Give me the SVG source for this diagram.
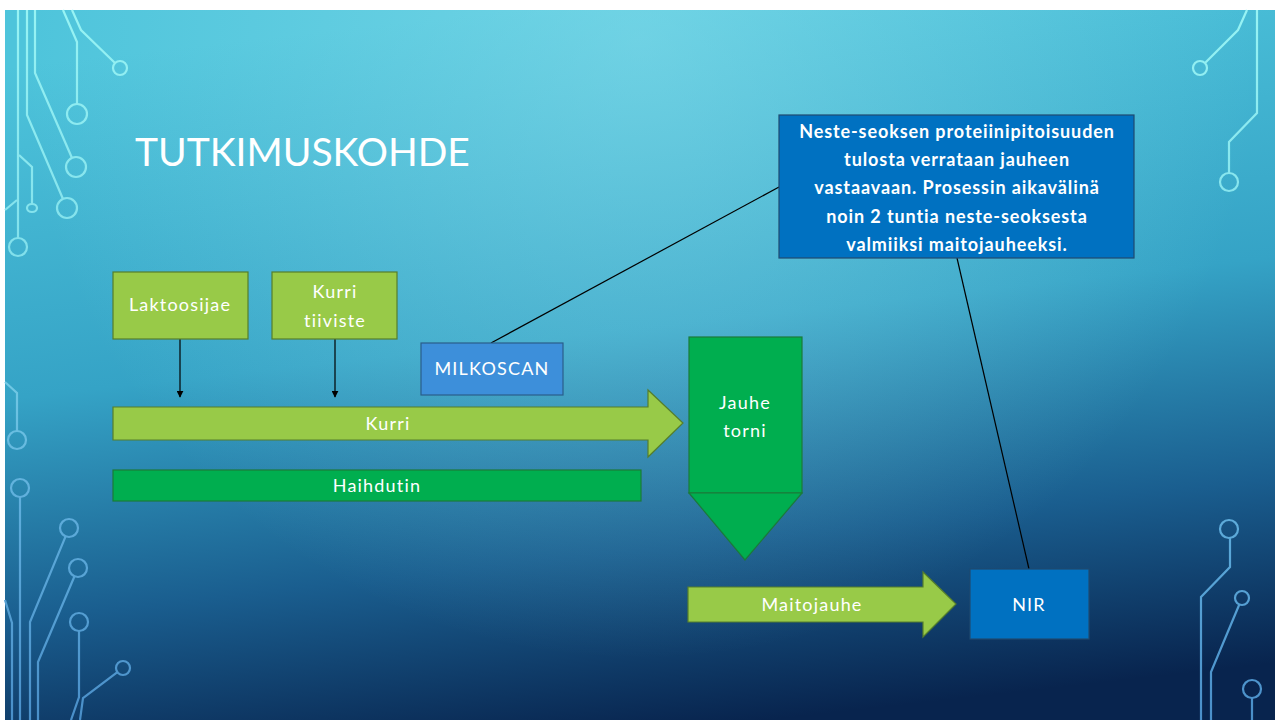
<svg xmlns="http://www.w3.org/2000/svg" width="1275" height="720" viewBox="0 0 1275 720">
<defs>
<linearGradient id="bg" x1="0.4" y1="0" x2="0.6" y2="1">
<stop offset="0" stop-color="#4EC4DB"/>
<stop offset="0.45" stop-color="#35A3C6"/>
<stop offset="0.75" stop-color="#1A5E8F"/>
<stop offset="1" stop-color="#08244E"/>
</linearGradient>
<radialGradient id="hl" cx="640" cy="40" r="620" gradientUnits="userSpaceOnUse">
<stop offset="0" stop-color="#9BE8F2" stop-opacity="0.45"/>
<stop offset="1" stop-color="#9BE8F2" stop-opacity="0"/>
</radialGradient>
<linearGradient id="circ" x1="0" y1="0" x2="0" y2="720" gradientUnits="userSpaceOnUse">
<stop offset="0" stop-color="#98F4F4"/>
<stop offset="0.4" stop-color="#7EDDEA"/>
<stop offset="0.7" stop-color="#5FAEDC"/>
<stop offset="1" stop-color="#4A8FC9"/>
</linearGradient>
<marker id="ah" viewBox="0 0 10 10" refX="9" refY="5" markerWidth="7" markerHeight="7" orient="auto" markerUnits="userSpaceOnUse">
<path d="M0,0 L10,5 L0,10 Z" fill="#000"/>
</marker>
<style>
.c{fill:none;stroke:url(#circ);stroke-width:2.2}
.lg{fill:#98CA48;stroke:#557E2C;stroke-width:1.2}
.dg{fill:#00AE4F;stroke:#1B7A3A;stroke-width:1.2}
.bl{fill:#0071C1;stroke:#1F4A70;stroke-width:1.2}
.mb{fill:#3D8FDA;stroke:#2A5E8A;stroke-width:1.2}
.t{font-family:Lato,"Open Sans",sans-serif;fill:#fff;text-anchor:middle;font-size:18px;letter-spacing:1.2px}
.cl{font-family:Lato,"Open Sans",sans-serif;fill:#fff;text-anchor:middle;font-size:18px;font-weight:bold;letter-spacing:0.9px}
.ln{fill:none;stroke:#000;stroke-width:1.2}
</style>
</defs>
<rect width="1275" height="720" fill="#fff"/>
<rect x="5" y="10" width="1270" height="710" fill="url(#bg)"/>
<rect x="5" y="10" width="1270" height="710" fill="url(#hl)"/>
<g id="circuits">
<path class="c" d="M72,10 L81,30 L115,63"/><circle class="c" cx="120" cy="68" r="7"/>
<path class="c" d="M63,10 L77,42 V104"/><circle class="c" cx="77" cy="114" r="10"/>
<path class="c" d="M35,10 V73 L72,158"/><circle class="c" cx="76" cy="167" r="10"/>
<path class="c" d="M27,10 V115 L63,199"/><circle class="c" cx="67" cy="208" r="10"/>
<path class="c" d="M18,10 V238"/><circle class="c" cx="18" cy="247" r="9"/>
<path class="c" d="M19,155 L32,167 V204"/><ellipse class="c" cx="32" cy="208" rx="5" ry="4"/>
<path class="c" d="M5,210 L17,200"/>
<path class="c" d="M5,382 L17,393 V431"/><circle class="c" cx="17" cy="440" r="9"/>
<path class="c" d="M20,497 V720"/><circle class="c" cx="20" cy="488" r="9"/>
<path class="c" d="M65.6,536.3 L30,622 V720"/><circle class="c" cx="69" cy="528" r="9"/>
<path class="c" d="M74.5,576.3 L38,662 V720"/><circle class="c" cx="78" cy="568" r="9"/>
<path class="c" d="M79,631 V697 L71,720"/><circle class="c" cx="79" cy="622" r="9"/>
<path class="c" d="M117.4,672.2 L83,698 L80,720"/><circle class="c" cx="123" cy="668" r="7"/>
<path class="c" d="M5,600 L12,623 V720"/>
<path class="c" d="M1247,10 L1238,30 L1205,63"/><circle class="c" cx="1200" cy="68" r="7"/>
<path class="c" d="M1257,10 V113 L1229,142 V173"/><circle class="c" cx="1229" cy="182" r="9"/>
<path class="c" d="M1230,538 V567 L1201,597 V720"/><circle class="c" cx="1229" cy="529" r="9"/>
<path class="c" d="M1239.3,604.5 L1211,672 V720"/><circle class="c" cx="1242" cy="598" r="7"/>
<path class="c" d="M1252,698 V720"/><circle class="c" cx="1252" cy="689" r="9"/>
</g>
<text x="135" y="166" font-family="Lato,'Open Sans',sans-serif" font-size="39" fill="#fff">TUTKIMUSKOHDE</text>
<g id="connectors">
<line class="ln" x1="180" y1="339" x2="180" y2="397" marker-end="url(#ah)"/>
<line class="ln" x1="335" y1="339" x2="335" y2="397" marker-end="url(#ah)"/>
<line class="ln" x1="491" y1="343" x2="779" y2="187"/>
<line class="ln" x1="957" y1="258" x2="1029" y2="569"/>
</g>
<g id="laktoosijae"><rect class="lg" x="113" y="272" width="135" height="67"/><text class="t" x="180" y="311">Laktoosijae</text></g>
<g id="kurri-tiiviste"><rect class="lg" x="272" y="272" width="125" height="67"/><text class="t" x="335" y="298">Kurri</text><text class="t" x="335" y="327">tiiviste</text></g>
<g id="milkoscan"><rect class="mb" x="421" y="343" width="142" height="52"/><text class="t" x="492" y="375">MILKOSCAN</text></g>
<g id="kurri"><path class="lg" d="M113,407 H648 V390 L683,423 L648,457 V440 H113 Z"/><text class="t" x="388" y="430">Kurri</text></g>
<g id="haihdutin"><rect class="dg" x="113" y="470" width="528" height="31"/><text class="t" x="377" y="492">Haihdutin</text></g>
<g id="jauhe-torni"><rect class="dg" x="689" y="337" width="113" height="156"/><path class="dg" d="M689,493 L802,493 L745,560 Z"/><text class="t" x="745" y="409">Jauhe</text><text class="t" x="745" y="437">torni</text></g>
<g id="maitojauhe"><path class="lg" d="M688,587 H923 V572 L956,604 L923,637 V622 H688 Z"/><text class="t" x="812" y="611">Maitojauhe</text></g>
<g id="nir"><rect class="bl" x="970" y="569" width="119" height="70"/><text class="t" x="1029" y="611">NIR</text></g>
<g id="callout"><rect class="bl" x="779" y="115" width="355" height="143"/>
<text class="cl" x="957" y="138">Neste-seoksen proteiinipitoisuuden</text>
<text class="cl" x="957" y="166">tulosta verrataan jauheen</text>
<text class="cl" x="957" y="194">vastaavaan. Prosessin aikavälinä</text>
<text class="cl" x="957" y="223">noin 2 tuntia neste-seoksesta</text>
<text class="cl" x="957" y="251">valmiiksi maitojauheeksi.</text>
</g>
</svg>
